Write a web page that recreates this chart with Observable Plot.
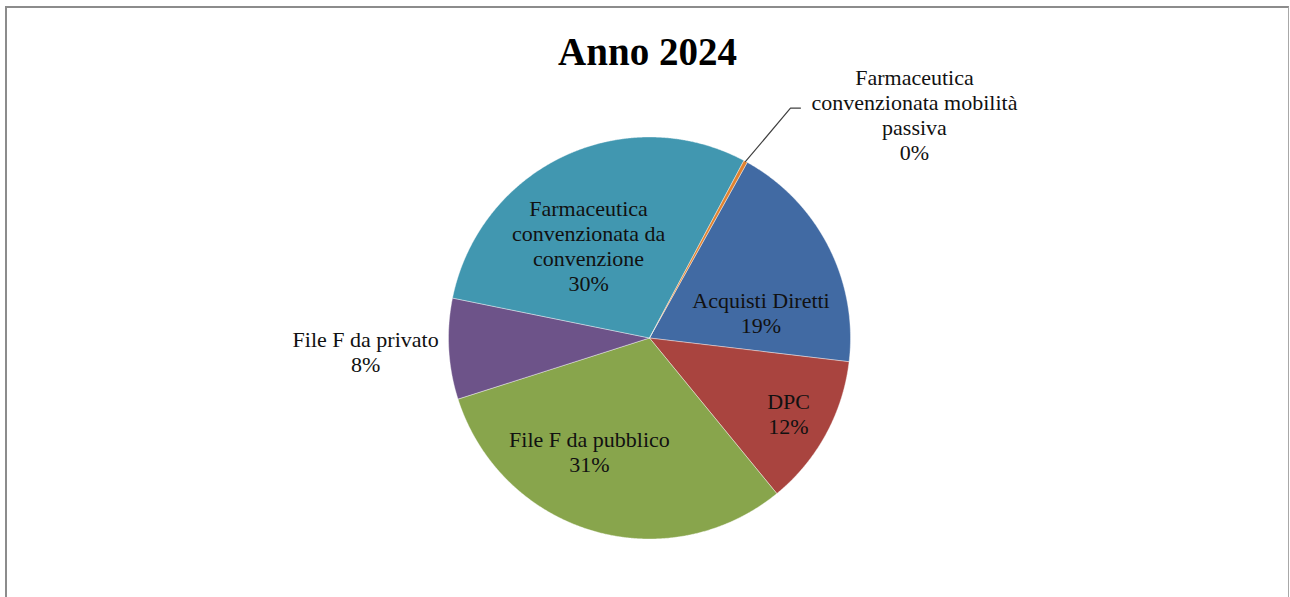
<!DOCTYPE html>
<html><head><meta charset="utf-8">
<script src="https://cdn.jsdelivr.net/npm/d3@7"></script>
<script src="https://cdn.jsdelivr.net/npm/@observablehq/plot@0.6"></script>
<style>
html,body{margin:0;padding:0;background:#fff;overflow:hidden;width:1290px;height:597px}
#chart{position:absolute;left:0;top:0}
#frame{position:absolute;left:5px;top:6px;width:1284px;height:600px;border-left:2px solid #8c8c8c;border-top:2px solid #8c8c8c;border-right:1px solid #a8a8a8;box-sizing:border-box;pointer-events:none}
</style></head><body>
<div id="chart"></div><div id="frame"></div>
<script>
// ---- data ----
const title = "Anno 2024";
const categories = [
  "Acquisti Diretti",
  "DPC",
  "File F da pubblico",
  "File F da privato",
  "Farmaceutica convenzionata da convenzione",
  "Farmaceutica convenzionata mobilità passiva"
];
const categoryLabels = [
  "Acquisti Diretti",
  "DPC",
  "File F da pubblico",
  "File F da privato",
  "Farmaceutica\nconvenzionata da\nconvenzione",
  "Farmaceutica\nconvenzionata mobilità\npassiva"
];
const values = [18.8, 12.2, 31.0, 8.1, 29.6, 0.3];
const colors = ["#416aa3", "#a9443f", "#88a54c", "#6d5389", "#4197b0", "#e0822f"];

// ---- layout (not data) ----
const W = 1290, H = 597, CX = 649, CY = 337.5, R = 201;
const startAngle = 29.1; // degrees, clockwise from 12 o'clock
const placement = {
  "Acquisti Diretti": {angle: 77.1, r: 0.569},
  "DPC": {angle: 118.5, r: 0.787},
  "File F da pubblico": {angle: 207.9, r: 0.639},
  "File F da privato": {angle: 267.3, r: 1.414},
  "Farmaceutica convenzionata da convenzione": {angle: 326.6, r: 0.551},
  "Farmaceutica convenzionata mobilità passiva": {angle: 49.8, r: 1.726, leader: true}
};

const total = d3.sum(values);
const rad = d => d * Math.PI / 180;
const px = (a, r) => Math.sin(rad(a)) * r;
const py = (a, r) => Math.cos(rad(a)) * r;

// slices
const slicePts = [];
const sliceInfo = [];
let a = startAngle;
categories.forEach((c, i) => {
  const sweep = values[i] / total * 360;
  const a0 = a, a1 = a + sweep;
  sliceInfo.push({name: c, a0, a1, mid: (a0 + a1) / 2});
  slicePts.push({name: c, x: 0, y: 0});
  const n = Math.max(2, Math.ceil(sweep / 0.25));
  for (let k = 0; k <= n; k++) {
    const t = a0 + sweep * k / n;
    slicePts.push({name: c, x: px(t, 1), y: py(t, 1)});
  }
  slicePts.push({name: c, x: 0, y: 0});
  a = a1;
});

// labels
const labelData = categories.map((c, i) => {
  const p = placement[c];
  const pct = Math.round(values[i] / total * 100) + "%";
  return {name: c, text: categoryLabels[i] + "\n" + pct, x: px(p.angle, p.r), y: py(p.angle, p.r)};
});

// leader lines
const leaderPts = [];
categories.forEach((c, i) => {
  const p = placement[c];
  if (!p.leader) return;
  const s = sliceInfo[i];
  const lx = px(p.angle, p.r), ly = py(p.angle, p.r);
  const ex = lx - 114 / R, ey = ly + 6 / R;
  leaderPts.push({name: c, x: px(s.mid, 1), y: py(s.mid, 1)});
  leaderPts.push({name: c, x: ex - 10 / R, y: ey});
  leaderPts.push({name: c, x: ex, y: ey});
});

const chart = Plot.plot({
  width: W, height: H,
  margin: 0,
  x: {domain: [-CX / R, (W - CX) / R], axis: null},
  y: {domain: [(CY - H) / R, CY / R], axis: null},
  color: {type: "ordinal", domain: categories, range: colors},
  style: {background: "transparent"},
  marks: [
    Plot.line(slicePts, {x: "x", y: "y", z: "name", fill: "name", stroke: "white", strokeWidth: 0.4, curve: "linear"}),
    Plot.line(leaderPts, {x: "x", y: "y", z: "name", stroke: "#404040", strokeWidth: 1.2}),
    Plot.text(labelData, {x: "x", y: "y", text: "text", fontSize: 22, lineHeight: 25/22, fontFamily: "Liberation Serif", fill: "#111", textAnchor: "middle", lineAnchor: "middle"}),
    Plot.text([title], {text: d => d, frameAnchor: "top", lineAnchor: "bottom", dy: 64, dx: 2, fontSize: 39, fontWeight: "bold", fontFamily: "Liberation Serif", fill: "#000"})
  ]
});
document.getElementById("chart").appendChild(chart);
</script>
</body></html>
